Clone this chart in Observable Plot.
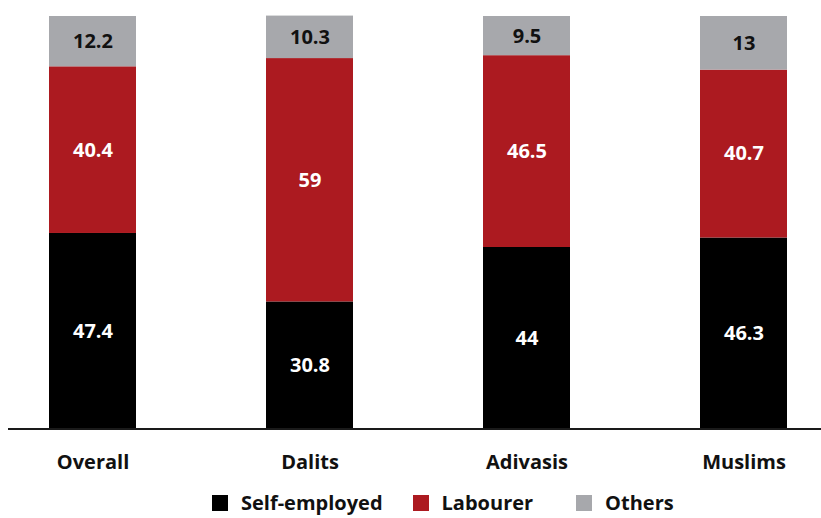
<!DOCTYPE html>
<html>
<head>
<meta charset="utf-8">
<script src="https://cdn.jsdelivr.net/npm/d3@7"></script>
<script src="https://cdn.jsdelivr.net/npm/@observablehq/plot@0.6"></script>
<style>
  html, body { margin: 0; padding: 0; background: #fff; overflow: hidden; }
  body { width: 821px; height: 518px; font-family: "Open Sans", sans-serif; }
  #legend { display: flex; align-items: center; height: 30px; padding-left: 212px; margin-top: 3px;
            font-weight: 700; font-size: 20px; line-height: 24px; color: #111; }
  .item { display: flex; align-items: center; }
  .sw { width: 16px; height: 16px; margin-right: 13px; }
</style>
</head>
<body>
<div id="chart"></div>
<script>
const categories = ["Overall", "Dalits", "Adivasis", "Muslims"];
const series = ["Self-employed", "Labourer", "Others"];
const selfEmployed = [47.4, 30.8, 44, 46.3];
const labourer = [40.4, 59, 46.5, 40.7];
const others = [12.2, 10.3, 9.5, 13];
const colors = ["#000000", "#ac1a20", "#a7a8ac"];
const labelColors = ["#ffffff", "#ffffff", "#111111"];

const valuesBySeries = [selfEmployed, labourer, others];
const data = [];
series.forEach((s, si) => {
  categories.forEach((c, ci) => {
    data.push({category: c, type: s, value: valuesBySeries[si][ci]});
  });
});

const chart = Plot.plot({
  width: 821,
  height: 485,
  marginTop: 16,
  marginBottom: 56.5,
  marginLeft: 8,
  marginRight: 0,
  style: {fontFamily: "'Open Sans', sans-serif", background: "#fff"},
  x: {domain: categories, paddingInner: 0.6, paddingOuter: 0.17, align: 0.54, label: null},
  y: {domain: [0, 100], axis: null},
  color: {domain: series, range: colors},
  marks: [
    Plot.barY(data, {x: "category", y: "value", fill: "type", order: series}),
    Plot.text(data, Plot.stackY({
      x: "category", y: "value", z: "type", order: series,
      text: d => String(d.value),
      fill: d => labelColors[series.indexOf(d.type)],
      fontSize: 20, fontWeight: 700
    })),
    Plot.ruleY([0], {stroke: "#1a1a1a", strokeWidth: 2}),
    Plot.axisX({tickSize: 0, tickPadding: 26, fontSize: 20, fontWeight: 700, fill: "#111", label: null})
  ]
});
document.getElementById("chart").appendChild(chart);

const legend = document.createElement("div");
legend.id = "legend";
const gaps = [30, 43, 0];
series.forEach((s, i) => {
  const item = document.createElement("div");
  item.className = "item";
  item.style.marginRight = gaps[i] + "px";
  const sw = document.createElement("span");
  sw.className = "sw";
  sw.style.background = colors[i];
  const t = document.createElement("span");
  t.textContent = s;
  item.appendChild(sw);
  item.appendChild(t);
  legend.appendChild(item);
});
document.body.appendChild(legend);
</script>
</body>
</html>
